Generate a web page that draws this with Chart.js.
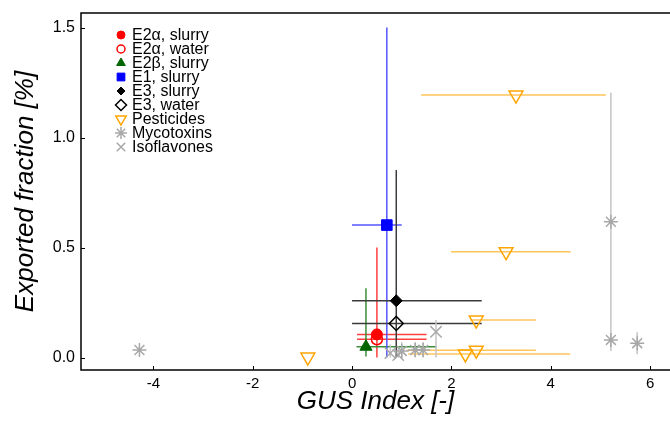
<!DOCTYPE html>
<html><head><meta charset="utf-8">
<script src="https://cdn.jsdelivr.net/npm/chart.js@4/dist/chart.umd.min.js"></script>
<style>html,body{margin:0;padding:0;background:#fff;overflow:hidden}canvas{display:block}</style>
</head><body>
<canvas id="c" width="670" height="421"></canvas>
<script>
// each row: [GUS index, exported fraction, xLow, xHigh, yLow, yHigh]  (null = no error bar)
const e2aSlurry = [[0.50, 0.105, 0.10, 1.50, 0.00, 0.50]];
const e2aWater  = [[0.50, 0.083, 0.10, 1.50, null, null]];
const e2bSlurry = [[0.28, 0.049, 0.09, 1.70, 0.004, 0.315]];
const e1Slurry  = [[0.70, 0.602, 0.00, 1.00, 0.00, 1.50]];
const e3Slurry  = [[0.89, 0.258, 0.00, 2.61, 0.00, 0.852]];
const e3Water   = [[0.89, 0.155, 0.00, 2.61, null, null]];
const pesticides = [
  [3.30, 1.193, 1.39, 5.11, null, null],
  [3.10, 0.481, 1.99, 4.40, null, null],
  [2.50, 0.170, 2.38, 3.70, null, null],
  [2.50, 0.033, 1.10, 3.70, null, null],
  [2.28, 0.016, 1.13, 4.39, null, null],
  [-0.89, 0.002, null, null, null, null]
];
const mycotoxins = [
  [-4.28, 0.034, null, null, null, null],
  [5.21, 0.617, null, null, 0.03, 1.204],
  [5.21, 0.080, null, null, null, null],
  [5.74, 0.065, null, null, 0.015, 0.115],
  [1.00, 0.030, null, null, 0.00, 0.07],
  [1.27, 0.034, null, null, 0.00, 0.07],
  [1.43, 0.034, null, null, 0.00, 0.07]
];
const isoflavones = [
  [0.77, 0.020, null, null, 0.00, 0.06],
  [0.93, 0.011, null, null, 0.00, 0.05],
  [1.69, 0.117, null, null, 0.00, 0.17]
];
const seriesLabels = ['E2\u03b1, slurry','E2\u03b1, water','E2\u03b2, slurry','E1, slurry','E3, slurry','E3, water','Pesticides','Mycotoxins','Isoflavones'];
const xTicks = [-4, -2, 0, 2, 4, 6];
const yTicks = [0, 0.5, 1.0, 1.5];
const yTickLabels = ['0.0', '0.5', '1.0', '1.5'];
const xTitle = 'GUS Index [-]';
const yTitle = 'Exported fraction [%]';

const FONT = "'Liberation Sans', Arial, Helvetica, sans-serif";
const seriesRows = [e2aSlurry, e2aWater, e2bSlurry, e1Slurry, e3Slurry, e3Water, pesticides, mycotoxins, isoflavones];
const styles = [
  {ps:'circle',  r:5.5, fill:'#ff0000', stroke:'#ff0000', bw:1,   err:'#ff4040', lr:4},
  {ps:'circle',  r:5.5, fill:'rgba(0,0,0,0)', stroke:'#ff0000', bw:1.5, err:'#ff4040', lr:4},
  {ps:'triangle',r:7,   fill:'#006400', stroke:'#006400', bw:1,   err:'#3a8f3a', lr:5},
  {ps:'rect',    r:7.5, fill:'#0000ff', stroke:'#0000ff', bw:1,   err:'#5555ff', lr:5.5},
  {ps:'rectRot', r:6,   fill:'#000000', stroke:'#000000', bw:1,   err:'#3a3a3a', lr:4},
  {ps:'rectRot', r:7,   fill:'rgba(0,0,0,0)', stroke:'#000000', bw:1.5, err:'#3a3a3a', lr:5.5},
  {ps:'triangle',r:8,   fill:'rgba(0,0,0,0)', stroke:'#ffa500', bw:1.5, err:'#ffc55a', lr:6, rot:180},
  {ps:'star',    r:7,   fill:'rgba(0,0,0,0)', stroke:'#a8a8a8', bw:1.5, err:'#c4c4c4', lr:6},
  {ps:'crossRot',r:8,   fill:'rgba(0,0,0,0)', stroke:'#a8a8a8', bw:1.5, err:'#c4c4c4', lr:6}
];

const datasets = seriesRows.map((rows, i) => ({
  label: seriesLabels[i],
  data: rows.map(r => ({x: r[0], y: r[1]})),
  rows: rows,
  errColor: styles[i].err,
  showLine: false,
  pointStyle: styles[i].ps,
  pointRadius: styles[i].r,
  pointHoverRadius: styles[i].r,
  pointRotation: styles[i].rot || 0,
  backgroundColor: styles[i].fill,
  borderColor: styles[i].stroke,
  pointBorderWidth: styles[i].bw,
  clip: false
}));

const errorBars = {
  id: 'errorBars',
  beforeDatasetsDraw(chart) {
    const {ctx, chartArea: ca, scales: {x, y}} = chart;
    ctx.save();
    ctx.beginPath(); ctx.rect(ca.left, ca.top, ca.right - ca.left, ca.bottom - ca.top); ctx.clip();
    ctx.lineWidth = 1.5;
    chart.data.datasets.forEach(ds => {
      ctx.strokeStyle = ds.errColor;
      ds.rows.forEach(r => {
        if (r[2] != null) {
          const py = y.getPixelForValue(r[1]);
          ctx.beginPath(); ctx.moveTo(x.getPixelForValue(r[2]), py); ctx.lineTo(x.getPixelForValue(r[3]), py); ctx.stroke();
        }
        if (r[4] != null) {
          const px = x.getPixelForValue(r[0]);
          ctx.beginPath(); ctx.moveTo(px, y.getPixelForValue(r[4])); ctx.lineTo(px, y.getPixelForValue(r[5])); ctx.stroke();
        }
      });
    });
    ctx.restore();
  }
};

const frame = {
  id: 'frame',
  afterDraw(chart) {
    const {ctx, chartArea: ca, scales: {x, y}} = chart;
    ctx.save();
    ctx.strokeStyle = '#000'; ctx.lineWidth = 1.5;
    ctx.beginPath();
    ctx.moveTo(chart.width + 2, ca.top); ctx.lineTo(ca.left, ca.top); ctx.lineTo(ca.left, ca.bottom); ctx.lineTo(chart.width + 2, ca.bottom);
    ctx.stroke();
    ctx.lineWidth = 1;
    x.ticks.forEach(t => { const px = Math.round(x.getPixelForValue(t.value)) + 0.5; ctx.beginPath(); ctx.moveTo(px, ca.bottom); ctx.lineTo(px, ca.bottom - 4); ctx.stroke(); });
    y.ticks.forEach(t => { const py = Math.round(y.getPixelForValue(t.value)) + 0.5; ctx.beginPath(); ctx.moveTo(ca.left, py); ctx.lineTo(ca.left + 4, py); ctx.stroke(); });
    // legend
    const lx = 121, ly0 = 35, step = 14;
    ctx.font = '16px ' + FONT; ctx.textBaseline = 'middle'; ctx.textAlign = 'left';
    chart.data.datasets.forEach((ds, i) => {
      const st = styles[i], yy = ly0 + i * step;
      ctx.fillStyle = st.fill; ctx.strokeStyle = st.stroke; ctx.lineWidth = st.bw;
      Chart.helpers.drawPoint(ctx, {pointStyle: st.ps, radius: st.lr, rotation: st.rot || 0, borderWidth: st.bw}, lx, yy);
      ctx.fillStyle = '#000';
      ctx.fillText(ds.label, 132, yy + 1);
    });
    ctx.restore();
  }
};

new Chart(document.getElementById('c'), {
  type: 'scatter',
  data: {datasets},
  options: {
    responsive: false, animation: false, devicePixelRatio: 1,
    layout: {padding: {top: 13, right: 0, left: 0, bottom: 0}, autoPadding: false},
    plugins: {legend: {display: false}, tooltip: {enabled: false}},
    scales: {
      x: {
        type: 'linear', min: -5.456, max: 6.40,
        grid: {display: false, drawTicks: false},
        border: {display: false},
        afterBuildTicks: s => { s.ticks = xTicks.map(v => ({value: v})); },
        afterFit: s => { s.height = 51; s.paddingLeft = 0; s.paddingRight = 0; },
        ticks: {padding: 5, color: '#000', font: {family: FONT, size: 15}, callback: v => String(v)},
        title: {display: true, text: xTitle, color: '#000', font: {family: FONT, size: 26, style: 'italic', lineHeight: 1}, padding: {top: 0, bottom: 6}}
      },
      y: {
        type: 'linear', min: -0.0568, max: 1.566,
        grid: {display: false, drawTicks: false},
        border: {display: false},
        afterBuildTicks: s => { s.ticks = yTicks.map(v => ({value: v})); },
        afterFit: s => { s.width = 81; s.paddingTop = 0; s.paddingBottom = 0; },
        ticks: {padding: 6, color: '#000', font: {family: FONT, size: 16}, callback: v => yTickLabels[yTicks.indexOf(v)] ?? ''},
        title: {display: true, text: yTitle, color: '#000', font: {family: FONT, size: 26, style: 'italic', lineHeight: 1}, padding: {top: 13, bottom: 0}}
      }
    }
  },
  plugins: [errorBars, frame]
});
</script>
</body></html>
